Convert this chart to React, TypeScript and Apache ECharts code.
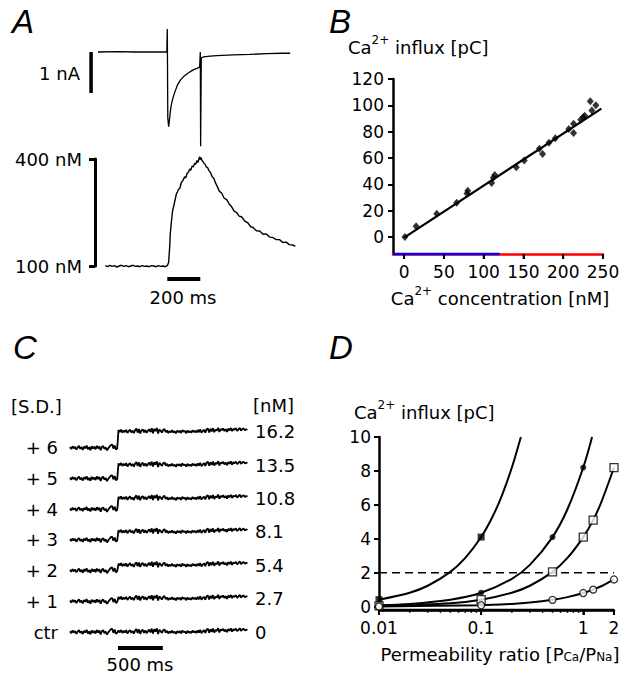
import React, { useEffect, useRef } from "react";
import * as echarts from "echarts";

// ---------- Panel A: membrane current (nA) and [Ca2+]i (nM) vs time (ms, 0 = pulse onset)
const currentTime = [-420, -300, -200, -100, -3, 0, 3, 8, 12, 18, 26, 38, 50, 62, 80, 99, 120, 139, 160, 180, 196, 199, 200, 202, 206, 220, 260, 300, 400, 500, 600, 700, 745];
const currentNa = [0, 0.01, 0, 0.005, 0, 0.56, -1.6, -1.82, -1.7, -1.46, -1.25, -1.07, -0.93, -0.8, -0.68, -0.6, -0.53, -0.48, -0.43, -0.4, -0.37, -0.36, 0.0, -2.3, -0.14, -0.12, -0.1, -0.09, -0.07, -0.06, -0.04, -0.03, -0.03];

const calciumTime = [
  -376, -362, -348, -334, -320, -306, -292, -278, -264, -250, -236, -222, -208, -194, -180, -166, -152, -138, -124, -110, -96, -82, -68, -54, -40, -26, -12, 0,
  8, 14, 18, 25, 32, 38, 46, 55, 62, 68, 76, 85, 95, 105, 112, 120, 128, 136, 142, 150, 158, 166, 172, 180, 186, 192, 196, 200, 204, 210, 216, 222, 228, 236, 244, 252,
  262, 272, 282, 292, 302, 315, 330, 345, 360, 375, 390, 405, 420, 435, 450, 470, 490, 505, 520, 540, 560, 580, 600, 620, 640, 660, 680, 700, 720, 740, 760, 776
];
const calciumNM = [
  101, 98, 102, 99, 101, 97, 100, 102, 99, 101, 98, 100, 102, 99, 100, 98, 101, 99, 100, 98, 101, 100, 98, 101, 99, 100, 98, 101,
  110, 150, 190, 225, 255, 266, 283, 302, 308, 315, 318, 334, 340, 350, 347, 360, 363, 372, 368, 380, 378, 388, 385, 396, 390, 401, 406, 398, 404, 396, 393, 388, 386, 378, 376, 368,
  362, 350, 346, 333, 324, 310, 304, 290, 286, 274, 266, 254, 250, 240, 238, 226, 220, 210, 208, 199, 198, 189, 190, 181, 180, 174, 174, 166, 167, 160, 159, 155
];
const scaleBarCurrentNA = 1;
const scaleBarTimeMs = 200;

// ---------- Panel B: Ca2+ influx (pC) vs Ca2+ concentration (nM)
const bConcentration = [1, 15, 41, 66, 79, 80, 110, 114, 112, 141, 151, 170, 174, 182, 190, 207, 213, 213, 222, 225, 227, 234, 236, 241];
const bInflux = [0, 8, 17.5, 26, 33, 35, 41, 47, 45, 53, 58, 67, 63, 71.5, 75, 82, 79, 86, 89, 91, 92, 103, 96, 100];
const bFitConcentration = [0, 248];
const bFitInflux = [-0.5, 97.5];
const bTicksX = [0, 50, 100, 150, 200, 250];
const bTicksY = [0, 20, 40, 60, 80, 100, 120];
const bRangeX = [-14, 250];
const bRangeY = [-13, 120];

// ---------- Panel C: steps of [Ca2+] added to control noise
const cLevels = ["ctr", "+ 1", "+ 2", "+ 3", "+ 4", "+ 5", "+ 6"];
const cConcentration = [0, 2.7, 5.4, 8.1, 10.8, 13.5, 16.2];
const cConcentrationLabels = ["0", "2.7", "5.4", "8.1", "10.8", "13.5", "16.2"];
const cNoise = [
  0.8, -1.2, 1.5, -0.6, 1.0, -1.8, 0.4, 1.9, -1.0, 0.7, -2.0, 1.2, -0.5, 2.2, -1.4, 0.6, -2.3, 1.6, -0.8, 1.1,
  -1.5, 2.0, -0.6, 1.4, -2.4, 0.8, 1.8, -1.2, 0.5, -2.6, -0.4, 1.2, 2.8, 3.2, -0.8, 2.4, -1.8, -0.6, 1.6, -0.4,
  2.0, -1.0, 1.2, -0.6, 1.8, -1.4, 0.6, 2.0, -0.8, 1.0, -1.6, 1.4, 3.0, -1.0, 2.6, -1.8, 1.2, 2.2, -0.8, 1.6,
  -1.2, 0.8, 2.4, -0.4, 3.4, -1.6, 2.8, 0.4, 3.6, -2.0, 2.2, 0.8, -1.0, 1.8, 2.6, -0.6, 1.2, -1.4, 0.6, -0.8,
  1.4, -1.0, 0.4, -1.8, 1.0, -0.6, 0.8, -1.4, 1.6, -0.2, 0.6, -1.6, 1.2, -0.8, 0.4, -1.2, 1.4, -0.4, 0.8, -1.0,
  1.6, -0.6, 2.2, -1.2, 0.6, 1.8, -1.0, 2.4, 3.2, -0.8, 2.8, 0.2, 3.4, -0.6, 2.0, 1.0, 3.8, -0.4, 2.6, 1.4,
  3.2, 0.6, 2.4, -0.2, 3.0, 1.2, 3.6, 0.4, 2.8, 1.8, 3.4, 0.8, 2.2, 3.8, 1.0, 2.6, 3.2, 1.4, 2.4, 1.8
];
const cSampleMs = 14.2;
const cStepTimeMs = 530;
const scaleBarCTimeMs = 500;

// ---------- Panel D: Ca2+ influx (pC) vs permeability ratio PCa/PNa
const dCurve1X = [0.01, 0.02, 0.03, 0.05, 0.07, 0.1, 0.13, 0.16, 0.2, 0.245];
const dCurve1Y = [0.41, 0.82, 1.23, 2.05, 2.87, 4.1, 5.33, 6.56, 8.2, 10];
const dCurve2X = [0.01, 0.02, 0.05, 0.1, 0.2, 0.3, 0.5, 0.7, 1, 1.22];
const dCurve2Y = [0.08, 0.16, 0.41, 0.82, 1.64, 2.46, 4.1, 5.74, 8.2, 10];
const dCurve3X = [0.01, 0.05, 0.1, 0.2, 0.3, 0.5, 0.7, 1, 1.25, 1.5, 2];
const dCurve3Y = [0.04, 0.2, 0.41, 0.82, 1.23, 2.05, 2.87, 4.1, 5.1, 6.15, 8.2];
const dCurve4X = [0.01, 0.1, 0.2, 0.3, 0.5, 0.7, 1, 1.25, 1.5, 2];
const dCurve4Y = [0.01, 0.08, 0.16, 0.24, 0.4, 0.56, 0.8, 1.0, 1.2, 1.6];
const dFilledSquareX = [0.01, 0.1];
const dFilledSquareY = [0.41, 4.1];
const dFilledCircleX = [0.01, 0.1, 0.5, 1];
const dFilledCircleY = [0.08, 0.82, 4.1, 8.2];
const dOpenSquareX = [0.01, 0.1, 0.5, 1, 1.25, 2];
const dOpenSquareY = [0.04, 0.41, 2.05, 4.1, 5.1, 8.2];
const dOpenCircleX = [0.01, 0.1, 0.5, 1, 1.25, 2];
const dOpenCircleY = [0.01, 0.08, 0.4, 0.8, 1.0, 1.6];
const dThreshold = 2;
const dTicksX = [0.01, 0.1, 1, 2];
const dMinorTicksX = [0.02, 0.03, 0.04, 0.05, 0.06, 0.07, 0.08, 0.09, 0.2, 0.3, 0.4, 0.5, 0.6, 0.7, 0.8, 0.9];
const dTicksY = [0, 2, 4, 6, 8, 10];
const dRangeX = [0.01, 2];
const dRangeY = [-0.2, 10];

const zip = (xs: number[], ys: number[]) => xs.map((x, i) => [x, ys[i]]);

const FONT = "DejaVu Sans";
const LETTER_FONT = "Liberation Sans";
const BLACK = "#000";

// layout of panel C (1 value unit = 1 px)
const C_ZERO_Y = 632;
const C_SPACING = 30.7;

function buildOption(): any {
  const labelStyle = () => ({ fontFamily: FONT, fontSize: 17, color: BLACK });
  const axisLineStyle = (color = BLACK) => ({ show: true, onZero: false, lineStyle: { color, width: 2.5 } });
  const tickStyle = (values: number[], length = 5, width = 2) => ({ show: true, customValues: values, length, lineStyle: { color: BLACK, width } });

  const txt = (text: string, x: number, y: number, align = "left", fontSize = 18) => ({
    type: "text",
    x,
    y,
    style: { text, fontFamily: FONT, fontSize, fill: BLACK, align, verticalAlign: "middle" }
  });
  const letter = (text: string, x: number, y: number) => ({
    type: "text",
    x,
    y,
    style: { text, fontFamily: LETTER_FONT, fontSize: 33, fontStyle: "italic", fill: BLACK, align: "left", verticalAlign: "middle" }
  });
  const richBase = () => ({
    a: { fontFamily: FONT, fontSize: 18, lineHeight: 22, verticalAlign: "bottom" },
    s: { fontFamily: FONT, fontSize: 12, lineHeight: 22, verticalAlign: "top" },
    b: { fontFamily: FONT, fontSize: 12, lineHeight: 22, verticalAlign: "bottom" }
  });
  const richTxt = (text: string, x: number, y: number, align = "left") => ({
    type: "text",
    x,
    y,
    style: { text, fill: BLACK, align, verticalAlign: "middle", rich: richBase() }
  });

  const graphic: any[] = [
    letter("A", 12, 21),
    letter("B", 329, 21),
    letter("C", 13, 347),
    letter("D", 329, 347),
    txt("1 nA", 80, 73, "right"),
    txt("200 ms", 183, 297, "center"),
    richTxt("{a|Ca}{s|2+}{a| influx [pC]}", 348, 45),
    richTxt("{a|Ca}{s|2+}{a| concentration [nM]}", 500, 296, "center"),
    txt("[S.D.]", 11, 406),
    txt("[nM]", 253, 405),
    txt("500 ms", 140, 664, "center"),
    richTxt("{a|Ca}{s|2+}{a| influx [pC]}", 354, 410),
    richTxt("{a|Permeability ratio [P}{b|Ca}{a|/P}{b|Na}{a|]}", 500, 652, "center")
  ];
  cLevels.forEach((lv, k) => {
    graphic.push(txt(lv, 58, C_ZERO_Y - k * C_SPACING, "right"));
    graphic.push(txt(cConcentrationLabels[k], 255, C_ZERO_Y - k * C_SPACING - cConcentration[k], "left"));
  });

  const cSeries = cLevels.map((_, k) => ({
    type: "line",
    xAxisIndex: 4,
    yAxisIndex: 4,
    symbol: "none",
    clip: false,
    lineStyle: { color: BLACK, width: 1.8 },
    data: cNoise.map((n, i) => {
      const t = i * cSampleMs;
      return [t, k * C_SPACING + n + (t >= cStepTimeMs ? cConcentration[k] : 0)];
    })
  }));

  const markerSeries = (xs: number[], ys: number[], symbol: string, size: number, filled: boolean) => ({
    type: "scatter",
    xAxisIndex: 1,
    yAxisIndex: 1,
    symbol,
    symbolSize: size,
    clip: false,
    itemStyle: filled ? { color: BLACK } : { color: "#fff", borderColor: BLACK, borderWidth: 1.3 },
    data: zip(xs, ys),
    z: 5
  });
  const curve = (xs: number[], ys: number[]) => ({
    type: "line",
    xAxisIndex: 1,
    yAxisIndex: 1,
    symbol: "none",
    smooth: 0.3,
    clip: false,
    lineStyle: { color: BLACK, width: 2 },
    data: zip(xs, ys)
  });
  const baseLine = (xi: number, xr: number[], yMin: number, color = BLACK) => ({
    type: "line", xAxisIndex: xi, yAxisIndex: xi, symbol: "none", clip: false, silent: true,
    lineStyle: { color, width: 2.5 }, data: [[xr[0], yMin], [xr[1], yMin]], z: 3
  });
  const tickMarks = (xi: number, ticks: number[], yMin: number, len: number, w: number) => ({
    type: "scatter", xAxisIndex: xi, yAxisIndex: xi, symbol: "rect", symbolSize: [w, len], symbolOffset: [0, len / 2],
    clip: false, silent: true, itemStyle: { color: BLACK }, data: ticks.map((t) => [t, yMin]), z: 3
  });

  return {
    animation: false,
    backgroundColor: "#fff",
    grid: [
      { left: 393, top: 79, width: 210, height: 175 },
      { left: 379, top: 437, width: 235, height: 173 },
      { left: 88.1, top: 19.2, width: 207.9, height: 131.2 },
      { left: 98, top: 159, width: 198, height: 107 },
      { left: 70, top: 412, width: 178, height: 240 }
    ],
    xAxis: [
      {
        gridIndex: 0, type: "value", min: bRangeX[0], max: bRangeX[1],
        axisLine: axisLineStyle("red"),
        axisTick: tickStyle(bTicksX),
        axisLabel: { show: true, customValues: bTicksX, margin: 9, ...labelStyle() },
        splitLine: { show: false }
      },
      {
        gridIndex: 1, type: "log", logBase: 10, min: dRangeX[0], max: dRangeX[1],
        axisLine: axisLineStyle(),
        axisTick: tickStyle(dTicksX),
        axisLabel: { show: true, customValues: dTicksX, margin: 9, formatter: (v: number) => String(+v.toPrecision(3)), ...labelStyle() },
        splitLine: { show: false },
        minorTick: { show: false }
      },
      { gridIndex: 2, type: "value", min: -480, max: 780, show: false },
      { gridIndex: 3, type: "value", min: -420, max: 780, show: false },
      { gridIndex: 4, type: "value", min: 0, max: 1980, show: false }
    ],
    yAxis: [
      {
        gridIndex: 0, type: "value", min: bRangeY[0], max: bRangeY[1],
        axisLine: axisLineStyle(),
        axisTick: tickStyle(bTicksY),
        axisLabel: { show: true, customValues: bTicksY, margin: 9, ...labelStyle() },
        splitLine: { show: false }
      },
      {
        gridIndex: 1, type: "value", min: dRangeY[0], max: dRangeY[1],
        axisLine: axisLineStyle(),
        axisTick: tickStyle(dTicksY),
        axisLabel: { show: true, customValues: dTicksY, margin: 8, ...labelStyle() },
        splitLine: { show: false }
      },
      { gridIndex: 2, type: "value", min: -2.4, max: 0.8, show: false },
      {
        gridIndex: 3, type: "value", min: 100, max: 400, offset: 3,
        axisLine: { show: true, onZero: false, lineStyle: { color: BLACK, width: 3 } },
        axisTick: tickStyle([100, 400], 6, 3),
        axisLabel: { show: true, customValues: [100, 400], margin: 13, formatter: (v: number) => `${v} nM`, ...labelStyle(), fontSize: 18 },
        splitLine: { show: false }
      },
      { gridIndex: 4, type: "value", min: -20, max: 220, show: false }
    ],
    graphic,
    series: [
      // Panel A
      { type: "line", xAxisIndex: 2, yAxisIndex: 2, symbol: "none", clip: false, lineStyle: { color: BLACK, width: 1.3 }, data: zip(currentTime, currentNa) },
      { type: "line", xAxisIndex: 2, yAxisIndex: 2, symbol: "none", clip: false, lineStyle: { color: BLACK, width: 3.5 }, data: [[-462, 0], [-462, -scaleBarCurrentNA]] },
      { type: "line", xAxisIndex: 3, yAxisIndex: 3, symbol: "none", clip: false, lineStyle: { color: BLACK, width: 1.4 }, data: zip(calciumTime, calciumNM) },
      { type: "line", xAxisIndex: 3, yAxisIndex: 3, symbol: "none", clip: false, lineStyle: { color: BLACK, width: 4 }, data: [[0, 63.5], [scaleBarTimeMs, 63.5]] },
      // Panel B
      baseLine(0, [bRangeX[0], 120], bRangeY[0], "blue"),
      tickMarks(0, bTicksX, bRangeY[0], 5, 2),
      { type: "line", xAxisIndex: 0, yAxisIndex: 0, symbol: "none", clip: false, lineStyle: { color: BLACK, width: 2.2 }, data: zip(bFitConcentration, bFitInflux) },
      { type: "scatter", xAxisIndex: 0, yAxisIndex: 0, symbol: "diamond", symbolSize: [7, 8], clip: false, itemStyle: { color: BLACK }, data: zip(bConcentration, bInflux) },
      // Panel C
      ...cSeries,
      { type: "line", xAxisIndex: 4, yAxisIndex: 4, symbol: "none", clip: false, lineStyle: { color: BLACK, width: 4 }, data: [[533, -16], [533 + scaleBarCTimeMs, -16]] },
      // Panel D
      baseLine(1, dRangeX, dRangeY[0]),
      tickMarks(1, dTicksX, dRangeY[0], 5, 2),
      tickMarks(1, dMinorTicksX, dRangeY[0], 3, 1.5),
      curve(dCurve1X, dCurve1Y),
      curve(dCurve2X, dCurve2Y),
      curve(dCurve3X, dCurve3Y),
      curve(dCurve4X, dCurve4Y),
      { type: "line", xAxisIndex: 1, yAxisIndex: 1, symbol: "none", clip: false, lineStyle: { color: BLACK, width: 1.5, type: [8, 5] }, data: [[0.01, dThreshold], [2, dThreshold]] },
      markerSeries(dFilledSquareX, dFilledSquareY, "rect", 7, true),
      markerSeries(dFilledCircleX, dFilledCircleY, "circle", 6, true),
      markerSeries(dOpenSquareX, dOpenSquareY, "rect", 8, false),
      markerSeries(dOpenCircleX, dOpenCircleY, "circle", 7, false)
    ]
  };
}

export default function App() {
  const ref = useRef<HTMLDivElement>(null);
  useEffect(() => {
    document.body.style.margin = "0";
    if (!ref.current) return;
    const chart = echarts.init(ref.current, null, { renderer: "svg" });
    chart.setOption(buildOption());
    return () => chart.dispose();
  }, []);
  return <div ref={ref} style={{ position: "fixed", left: 0, top: 0, width: 634, height: 691, background: "#fff" }} />;
}
